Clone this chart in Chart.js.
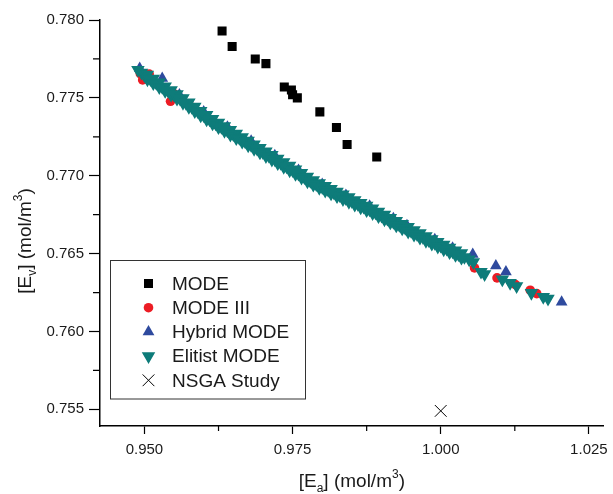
<!DOCTYPE html>
<html>
<head>
<meta charset="utf-8">
<script src="https://cdn.jsdelivr.net/npm/chart.js@4.4.0/dist/chart.umd.min.js"></script>
<style>
  html, body { margin: 0; padding: 0; background: #fff; overflow: hidden; }
</style>
</head>
<body>
<canvas id="chart" width="613" height="494"></canvas>
<script>
// axis ticks
const xTicks = [0.950, 0.975, 1.000, 1.025];
const xMinor = [0.9625, 0.9875, 1.0125];
const yTicks = [0.755, 0.760, 0.765, 0.770, 0.775, 0.780];
const yMinor = [0.7575, 0.7625, 0.7675, 0.7725, 0.7775];

// MODE
const modeX = [0.9631, 0.9648, 0.9687, 0.9705, 0.9736, 0.9748, 0.9750, 0.9758, 0.9796, 0.9824, 0.9842, 0.9892];
const modeY = [0.7793, 0.7783, 0.7775, 0.7772, 0.7757, 0.7755, 0.7752, 0.7750, 0.7741, 0.7731, 0.7720, 0.7712];

// MODE III
const mode3X = [0.9493, 0.9497, 0.9508, 0.9544, 0.9549, 0.9580, 0.9620, 0.9660, 0.9700, 0.9740, 0.9780,
                0.9820, 0.9860, 0.9900, 0.9940, 0.9980, 1.0020, 1.0057, 1.0095, 1.0126, 1.0151, 1.0162];
const mode3Y = [0.77655, 0.77615, 0.77653, 0.77478, 0.77529, 0.77440, 0.77330, 0.77240, 0.77150, 0.77060, 0.76965,
                0.76890, 0.76818, 0.76742, 0.76665, 0.76586, 0.76512, 0.76408, 0.76344, 0.76301, 0.76265, 0.76243];

// Hybrid MODE
const hybridX = [0.9492, 0.9530, 0.9559, 0.9600, 0.9640, 0.9680, 0.9720, 0.9760, 0.9800, 0.9840,
                 0.9880, 0.9920, 0.9943, 0.9990, 1.0020, 1.0054, 1.0093, 1.0110, 1.0204];
const hybridY = [0.77690, 0.77625, 0.77520, 0.77410, 0.77312, 0.77222, 0.77130, 0.77035, 0.76945, 0.76875,
                 0.76805, 0.76725, 0.76680, 0.76590, 0.76535, 0.76495, 0.76421, 0.76383, 0.76189];

// Elitist MODE, centre of the band and the tail
const elitistX = [0.9489, 0.9495, 0.9500, 0.9510, 0.9520, 0.9530, 0.9540, 0.9550, 0.9560, 0.9570,
                  0.9580, 0.9590, 0.9600, 0.9610, 0.9620, 0.9630, 0.9640, 0.9650, 0.9660, 0.9670,
                  0.9680, 0.9690, 0.9700, 0.9710, 0.9720, 0.9730, 0.9740, 0.9750, 0.9760, 0.9770,
                  0.9780, 0.9790, 0.9800, 0.9810, 0.9820, 0.9830, 0.9840, 0.9850, 0.9860, 0.9870,
                  0.9880, 0.9890, 0.9900, 0.9910, 0.9920, 0.9930, 0.9940, 0.9950, 0.9960, 0.9970,
                  0.9980, 0.9990, 1.0000, 1.0010, 1.0020, 1.0030, 1.0040, 1.0048, 1.0055, 1.0068,
                  1.0074, 1.0104, 1.0117, 1.0128, 1.0153, 1.0173, 1.0181];
const elitistY = [0.77680, 0.77662, 0.77645, 0.77620, 0.77595, 0.77570, 0.77545, 0.77520, 0.77495, 0.77468,
                  0.77441, 0.77414, 0.77388, 0.77361, 0.77336, 0.77313, 0.77290, 0.77266, 0.77243, 0.77220,
                  0.77197, 0.77174, 0.77151, 0.77128, 0.77105, 0.77082, 0.77059, 0.77036, 0.77013, 0.76990,
                  0.76966, 0.76945, 0.76927, 0.76909, 0.76891, 0.76873, 0.76855, 0.76837, 0.76819, 0.76801,
                  0.76783, 0.76764, 0.76744, 0.76724, 0.76704, 0.76684, 0.76665, 0.76645, 0.76625, 0.76606,
                  0.76586, 0.76568, 0.76550, 0.76532, 0.76514, 0.76496, 0.76478, 0.76462, 0.76445, 0.76383,
                  0.76368, 0.76334, 0.76312, 0.76291, 0.76247, 0.76222, 0.76211];

// Elitist MODE, upper and lower edges of the dense band
const bandX = [0.9505, 0.9515, 0.9525, 0.9535, 0.9545, 0.9555, 0.9565, 0.9575, 0.9585, 0.9595,
               0.9605, 0.9615, 0.9625, 0.9635, 0.9645, 0.9655, 0.9665, 0.9675, 0.9685, 0.9695,
               0.9705, 0.9715, 0.9725, 0.9735, 0.9745, 0.9755, 0.9765, 0.9775, 0.9785, 0.9795,
               0.9805, 0.9815, 0.9825, 0.9835, 0.9845, 0.9855, 0.9865, 0.9875, 0.9885, 0.9895,
               0.9905, 0.9915, 0.9925, 0.9935, 0.9945, 0.9955, 0.9965, 0.9975, 0.9985, 0.9995,
               1.0005, 1.0015, 1.0025, 1.0035];
const bandUpY = [0.77649, 0.77624, 0.77599, 0.77574, 0.77549, 0.77524, 0.77498, 0.77471, 0.77444, 0.77417,
                 0.77391, 0.77365, 0.77341, 0.77318, 0.77294, 0.77271, 0.77248, 0.77225, 0.77202, 0.77179,
                 0.77156, 0.77133, 0.77110, 0.77087, 0.77064, 0.77041, 0.77018, 0.76994, 0.76972, 0.76952,
                 0.76934, 0.76916, 0.76898, 0.76880, 0.76862, 0.76844, 0.76826, 0.76808, 0.76790, 0.76770,
                 0.76750, 0.76730, 0.76710, 0.76691, 0.76671, 0.76651, 0.76632, 0.76612, 0.76593, 0.76575,
                 0.76557, 0.76539, 0.76521, 0.76503];
const bandLowY = [0.77619, 0.77594, 0.77569, 0.77544, 0.77519, 0.77494, 0.77468, 0.77441, 0.77414, 0.77387,
                  0.77361, 0.77335, 0.77311, 0.77288, 0.77264, 0.77241, 0.77218, 0.77195, 0.77172, 0.77149,
                  0.77126, 0.77103, 0.77080, 0.77057, 0.77034, 0.77011, 0.76988, 0.76964, 0.76942, 0.76922,
                  0.76904, 0.76886, 0.76868, 0.76850, 0.76832, 0.76814, 0.76796, 0.76778, 0.76760, 0.76740,
                  0.76720, 0.76700, 0.76680, 0.76661, 0.76641, 0.76621, 0.76602, 0.76582, 0.76563, 0.76545,
                  0.76527, 0.76509, 0.76491, 0.76473];

// NSGA Study
const nsgaX = [1.0000];
const nsgaY = [0.7549];

const FONT = "'Liberation Sans', Arial, sans-serif";
const pts = (xs, ys) => xs.map((x, i) => ({ x: x, y: ys[i] }));
const near = (v, list) => list.some(t => Math.abs(t - v) < 1e-6);

// legend box, axis titles with sub/superscripts, short minor ticks
const extras = {
    id: 'extras',
    afterDraw(chart) {
        const ctx = chart.ctx;
        const xs = chart.scales.x, ys = chart.scales.y;
        const area = chart.chartArea;

        ctx.save();
        ctx.strokeStyle = '#000';
        ctx.lineWidth = 1.2;
        ctx.beginPath();
        xMinor.forEach(v => {
            const p = xs.getPixelForValue(v);
            ctx.moveTo(p, area.bottom);
            ctx.lineTo(p, area.bottom + 5);
        });
        yMinor.forEach(v => {
            const p = ys.getPixelForValue(v);
            ctx.moveTo(area.left, p);
            ctx.lineTo(area.left - 7, p);
        });
        ctx.stroke();

        // axis titles
        const parts = (sub) => [
            { t: '[E', s: 0 }, { t: sub, s: 1 }, { t: '] (mol/m', s: 0 }, { t: '3', s: -1 }, { t: ')', s: 0 }
        ];
        const drawTitle = (pieces, cx, by) => {
            const big = '19px ' + FONT, small = '12px ' + FONT;
            let w = 0;
            pieces.forEach(p => { ctx.font = p.s ? small : big; w += ctx.measureText(p.t).width; });
            let x = cx - w / 2;
            ctx.textBaseline = 'alphabetic';
            ctx.textAlign = 'left';
            pieces.forEach(p => {
                ctx.font = p.s ? small : big;
                const dy = p.s === 1 ? 5 : (p.s === -1 ? -9 : 0);
                ctx.fillText(p.t, x, by + dy);
                x += ctx.measureText(p.t).width;
            });
        };
        ctx.fillStyle = '#1a1a1a';
        drawTitle(parts('a'), (area.left + area.right) / 2, 487);
        ctx.save();
        ctx.translate(31, 241);
        ctx.rotate(-Math.PI / 2);
        drawTitle(parts('v'), 0, 0);
        ctx.restore();

        // legend
        ctx.strokeStyle = '#333';
        ctx.lineWidth = 1;
        ctx.strokeRect(110.5, 260.5, 195, 138.5);
        ctx.font = '19px ' + FONT;
        ctx.textBaseline = 'middle';
        ctx.textAlign = 'left';
        chart.data.datasets.forEach((ds, i) => {
            const y = 283.5 + i * 24.2;
            ctx.fillStyle = ds.backgroundColor;
            ctx.strokeStyle = ds.borderColor;
            ctx.lineWidth = ds.borderWidth;
            Chart.helpers.drawPoint(ctx, {
                pointStyle: ds.pointStyle, radius: ds.pointRadius,
                rotation: ds.pointRotation || 0, borderWidth: ds.borderWidth
            }, 148.5, y);
            ctx.fillStyle = '#1a1a1a';
            ctx.fillText(ds.label, 172, y + 1);
        });
        ctx.restore();
    }
};

new Chart(document.getElementById('chart'), {
    type: 'scatter',
    data: {
        datasets: [
            { label: 'MODE', data: pts(modeX, modeY), pointStyle: 'rect', pointRadius: 6.4,
              backgroundColor: '#000', borderColor: '#000', borderWidth: 0, order: 3 },
            { label: 'MODE III', data: pts(mode3X, mode3Y), pointStyle: 'circle', pointRadius: 4.8,
              backgroundColor: '#ec1c24', borderColor: '#ec1c24', borderWidth: 0, order: 2 },
            { label: 'Hybrid MODE', data: pts(hybridX, hybridY), pointStyle: 'triangle', pointRadius: 6.8,
              backgroundColor: '#2e4a9e', borderColor: '#2e4a9e', borderWidth: 0, order: 1 },
            { label: 'Elitist MODE',
              data: pts(elitistX, elitistY).concat(pts(bandX, bandUpY), pts(bandX, bandLowY)),
              pointStyle: 'triangle', pointRotation: 180, pointRadius: 6.3,
              backgroundColor: '#0e7c7a', borderColor: '#0e7c7a', borderWidth: 1.5, order: 0 },
            { label: 'NSGA Study', data: pts(nsgaX, nsgaY), pointStyle: 'crossRot', pointRadius: 8.3,
              backgroundColor: '#000', borderColor: '#000', borderWidth: 1, order: 4 }
        ]
    },
    options: {
        responsive: false,
        animation: false,
        devicePixelRatio: 1,
        events: [],
        layout: { padding: { top: 20, right: 5, left: 0, bottom: 0 } },
        plugins: { legend: { display: false }, tooltip: { enabled: false } },
        scales: {
            x: {
                type: 'linear', min: 0.9425, max: 1.0275,
                afterBuildTicks: s => { s.ticks = xTicks.map(v => ({ value: v })); },
                afterFit: s => { s.height = 68; s.paddingLeft = 0; s.paddingRight = 0; },
                grid: { drawOnChartArea: false, drawTicks: true, tickLength: 8, tickColor: '#000', tickWidth: 1.2 },
                border: { display: true, color: '#000', width: 1.5 },
                ticks: { padding: 7, color: '#1a1a1a', font: { family: FONT, size: 15 },
                         maxRotation: 0, autoSkip: false,
                         callback: v => near(v, xTicks) ? v.toFixed(3) : '' }
            },
            y: {
                type: 'linear', min: 0.75393, max: 0.780,
                afterBuildTicks: s => { s.ticks = yTicks.map(v => ({ value: v })); },
                afterFit: s => { s.width = 100; s.paddingTop = 0; s.paddingBottom = 0; },
                grid: { drawOnChartArea: false, drawTicks: true, tickLength: 11, tickColor: '#000', tickWidth: 1.2 },
                border: { display: true, color: '#000', width: 1.5 },
                ticks: { padding: 5, color: '#1a1a1a', font: { family: FONT, size: 15 }, autoSkip: false,
                         callback: v => near(v, yTicks) ? v.toFixed(3) : '' }
            }
        }
    },
    plugins: [extras]
});
</script>
</body>
</html>
